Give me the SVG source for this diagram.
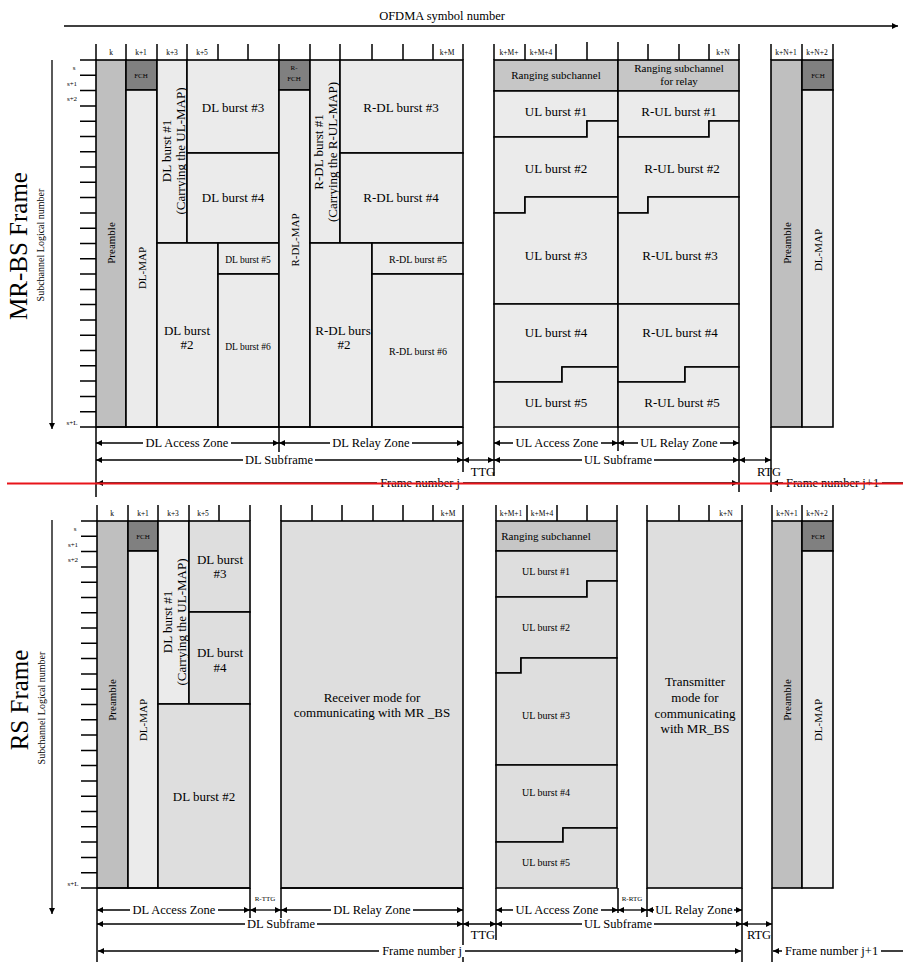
<svg xmlns="http://www.w3.org/2000/svg" width="903" height="962" viewBox="0 0 903 962" font-family="'Liberation Serif', serif">
<defs>
<marker id="ah" viewBox="0 0 10 10" refX="10" refY="5" markerWidth="8" markerHeight="6" markerUnits="userSpaceOnUse" orient="auto-start-reverse"><path d="M0,0 L10,5 L0,10 z" fill="#000"/></marker>
<style>
.ln{stroke:#000;stroke-width:1.5;fill:none}
.c{fill:#ebebeb;stroke:#000;stroke-width:1.6}
.d{fill:#dedede;stroke:#000;stroke-width:1.6}
.pre{fill:#bfbfbf;stroke:#000;stroke-width:1.6}
.fch{fill:#808080;stroke:#000;stroke-width:1.6}
.rng{fill:#c6c6c6;stroke:#000;stroke-width:1.6}
.ar{stroke:#000;stroke-width:1.3;fill:none;marker-start:url(#ah);marker-end:url(#ah)}
.are{stroke:#000;stroke-width:1.3;fill:none;marker-end:url(#ah)}
.ars{stroke:#000;stroke-width:1.3;fill:none;marker-start:url(#ah)}
.bg{fill:#fff;stroke:none}
text{font-family:"Liberation Serif","DejaVu Serif",serif;fill:#000;text-anchor:middle}
.f13{font-size:13px}
.f12{font-size:12.5px}
.f11{font-size:11px}
.f10{font-size:10px}
.f9{font-size:9.5px}
.f7{font-size:7.5px}
.f6{font-size:7px}
.big{font-size:25px}
</style>
</defs>

<!-- title axis -->
<g id="ofdma-axis">
<text class="f12" x="442" y="20">OFDMA symbol number</text>
<path class="are" d="M64,26 H898"/>
</g>

<!-- ================= MR-BS frame ================= -->
<g id="mrbs-labels">
<text class="big" transform="translate(18,246) rotate(-90)" dy="0.35em">MR-BS Frame</text>
<text class="f10" transform="translate(40,245) rotate(-90)" dy="0.35em">Subchannel Logical number</text>
<path class="are" d="M52,60 V429"/>
<path class="ln" d="M80,60H96M80,75.3H96M80,90.6H96M80,105.9H96M80,121.2H96M80,136.5H96M80,151.7H96M80,167H96M80,182.3H96M80,197.6H96M80,212.9H96M80,228.2H96M80,243.5H96M80,258.8H96M80,274.1H96M80,289.4H96M80,304.6H96M80,319.9H96M80,335.2H96M80,350.5H96M80,365.8H96M80,381.1H96M80,396.4H96M80,411.7H96M80,427H96"/>
<text class="f6" x="74" y="70">s</text>
<text class="f6" x="72" y="86">s+1</text>
<text class="f6" x="72" y="101">s+2</text>
<text class="f6" x="72" y="425">s+L</text>
</g>

<g id="mrbs-header">
<path class="ln" d="M96,44V60M126,44V60M157,44V60M187,44V60M218,44V60M248,44V60M279,44V60M310,44V60M340,44V60M372,44V60M403,44V60M433,44V60M463,44V60M494,44V60M525,44V60M556,44V60M587,42V60M618,42V60M648,44V60M679,44V60M709,44V60M739,44V60M771,44V60M802,44V60M833,44V60"/>
<text class="f7" x="111" y="55">k</text>
<text class="f7" x="141" y="55">k+1</text>
<text class="f7" x="172" y="55">k+3</text>
<text class="f7" x="202" y="55">k+5</text>
<text class="f7" x="447" y="55">k+M</text>
<text class="f7" x="509" y="55">k+M+</text>
<text class="f7" x="541" y="55">k+M+4</text>
<text class="f7" x="723" y="55">k+N</text>
<text class="f7" x="786" y="55">k+N+1</text>
<text class="f7" x="817" y="55">k+N+2</text>
</g>

<g id="mrbs-preamble"><rect class="pre" x="96" y="60" width="30" height="367"/><text class="f11" transform="translate(111,243) rotate(-90)" dy="0.35em">Preamble</text></g>
<g id="mrbs-fch"><rect class="fch" x="126" y="60" width="31" height="30"/><text class="f6" x="141" y="78">FCH</text></g>
<g id="mrbs-dlmap"><rect class="c" x="126" y="90" width="31" height="337"/><text class="f11" transform="translate(142,268) rotate(-90)" dy="0.35em">DL-MAP</text></g>
<g id="mrbs-dl1"><rect class="c" x="157" y="60" width="30" height="183"/><text class="f13" transform="translate(166,151) rotate(-90)" dy="0.35em">DL burst #1</text><text class="f13" transform="translate(180,151) rotate(-90)" dy="0.35em">(Carrying the UL-MAP)</text></g>
<g id="mrbs-dl3"><rect class="c" x="187" y="60" width="92" height="93"/><text class="f13" x="233" y="111.5">DL burst #3</text></g>
<g id="mrbs-dl4"><rect class="c" x="187" y="153" width="92" height="90"/><text class="f13" x="233" y="201.5">DL burst #4</text></g>
<g id="mrbs-dl2"><rect class="c" x="157" y="243" width="61" height="184"/><text class="f13" x="187" y="334.5">DL burst</text><text class="f13" x="187" y="348.5">#2</text></g>
<g id="mrbs-dl5"><rect class="c" x="218" y="243" width="61" height="31"/><text class="f9" x="248" y="262.5">DL burst #5</text></g>
<g id="mrbs-dl6"><rect class="c" x="218" y="274" width="61" height="153"/><text class="f9" x="248" y="349.5">DL burst #6</text></g>

<g id="mrbs-rfch"><rect class="fch" x="279" y="60" width="31" height="30"/><text class="f6" x="294" y="70">R-</text><text class="f6" x="294" y="81">FCH</text></g>
<g id="mrbs-rdlmap"><rect class="c" x="279" y="90" width="31" height="337"/><text class="f11" transform="translate(295,240) rotate(-90)" dy="0.35em">R-DL-MAP</text></g>
<g id="mrbs-rdl1"><rect class="c" x="310" y="60" width="30" height="183"/><text class="f13" transform="translate(318,152) rotate(-90)" dy="0.35em">R-DL burst #1</text><text class="f13" transform="translate(332,152) rotate(-90)" dy="0.35em">(Carrying the R-UL-MAP)</text></g>
<g id="mrbs-rdl3"><rect class="c" x="340" y="60" width="123" height="93"/><text class="f13" x="401" y="111.5">R-DL burst #3</text></g>
<g id="mrbs-rdl4"><rect class="c" x="340" y="153" width="123" height="90"/><text class="f13" x="401" y="201.5">R-DL burst #4</text></g>
<g id="mrbs-rdl2"><rect class="c" x="310" y="243" width="62" height="184"/><text class="f13" x="343" y="334.5">R-DL burs</text><text class="f13" x="344" y="348.5">#2</text></g>
<g id="mrbs-rdl5"><rect class="c" x="372" y="243" width="91" height="31"/><text class="f10" x="418" y="262.5">R-DL burst #5</text></g>
<g id="mrbs-rdl6"><rect class="c" x="372" y="274" width="91" height="153"/><text class="f10" x="418" y="355">R-DL burst #6</text></g>

<g id="mrbs-ranging"><rect class="rng" x="494" y="60" width="124" height="31"/><text class="f11" x="556" y="79">Ranging subchannel</text></g>
<g id="mrbs-ul1"><polygon class="c" points="494,91 618,91 618,121 587,121 587,137 494,137"/><text class="f13" x="556" y="115.5">UL burst #1</text></g>
<g id="mrbs-ul2"><polygon class="c" points="494,137 587,137 587,121 618,121 618,197 525,197 525,213 494,213"/><text class="f13" x="556" y="172.5">UL burst #2</text></g>
<g id="mrbs-ul3"><polygon class="c" points="494,213 525,213 525,197 618,197 618,304 494,304"/><text class="f13" x="556" y="259.5">UL burst #3</text></g>
<g id="mrbs-ul4"><polygon class="c" points="494,304 618,304 618,367 562,367 562,382 494,382"/><text class="f13" x="556" y="336.5">UL burst #4</text></g>
<g id="mrbs-ul5"><polygon class="c" points="494,382 562,382 562,367 618,367 618,427 494,427"/><text class="f13" x="556" y="406.5">UL burst #5</text></g>

<g id="mrbs-rranging"><rect class="rng" x="618" y="60" width="121" height="31"/><text class="f11" x="679" y="72">Ranging subchannel</text><text class="f11" x="679" y="85">for relay</text></g>
<g id="mrbs-rul1"><polygon class="c" points="618,91 739,91 739,121 709,121 709,137 618,137"/><text class="f13" x="679" y="115.5">R-UL burst #1</text></g>
<g id="mrbs-rul2"><polygon class="c" points="618,137 709,137 709,121 739,121 739,197 648,197 648,213 618,213"/><text class="f13" x="682" y="172.5">R-UL burst #2</text></g>
<g id="mrbs-rul3"><polygon class="c" points="618,213 648,213 648,197 739,197 739,304 618,304"/><text class="f13" x="680" y="259.5">R-UL burst #3</text></g>
<g id="mrbs-rul4"><polygon class="c" points="618,304 739,304 739,367 685,367 685,382 618,382"/><text class="f13" x="680" y="336.5">R-UL burst #4</text></g>
<g id="mrbs-rul5"><polygon class="c" points="618,382 685,382 685,367 739,367 739,427 618,427"/><text class="f13" x="682" y="406.5">R-UL burst #5</text></g>

<g id="mrbs-next-preamble"><rect class="pre" x="771" y="60" width="31" height="367"/><text class="f11" transform="translate(787,243) rotate(-90)" dy="0.35em">Preamble</text></g>
<g id="mrbs-next-fch"><rect class="fch" x="802" y="60" width="31" height="30"/><text class="f6" x="818" y="78">FCH</text></g>
<g id="mrbs-next-dlmap"><rect class="c" x="802" y="90" width="31" height="337"/><text class="f11" transform="translate(818,250) rotate(-90)" dy="0.35em">DL-MAP</text></g>

<g id="mrbs-connectors">
<path class="ln" d="M96,427V497M279,427V452M463,427V472M494,427V476M618,427V451M739,427V492M771,427V492M96,427H463"/>
<path class="ar" d="M96,443H279"/><rect class="bg" x="143" y="437" width="88" height="12"/><text class="f12" x="187" y="447">DL Access Zone</text>
<path class="ar" d="M279,443H463"/><rect class="bg" x="330" y="437" width="82" height="12"/><text class="f12" x="371" y="447">DL Relay Zone</text>
<path class="ar" d="M96,460H463"/><rect class="bg" x="243" y="454" width="72" height="12"/><text class="f12" x="279" y="464">DL Subframe</text>
<path class="ar" d="M463,460H494"/><text class="f12" x="483" y="476">TTG</text>
<path class="ar" d="M494,443H618"/><rect class="bg" x="513" y="437" width="88" height="12"/><text class="f12" x="557" y="447">UL Access Zone</text>
<path class="ar" d="M618,443H739"/><rect class="bg" x="638" y="437" width="82" height="12"/><text class="f12" x="679" y="447">UL Relay Zone</text>
<path class="ar" d="M494,460H739"/><rect class="bg" x="582" y="454" width="72" height="12"/><text class="f12" x="618" y="464">UL Subframe</text>
<path class="ar" d="M739,460H771"/><text class="f12" x="769" y="476">RTG</text>
<path class="ar" d="M97,483H738"/><rect class="bg" x="377" y="477" width="86" height="12"/><text class="f12" x="460" y="487" style="text-anchor:end">Frame number j</text>
<path class="ars" d="M772,483H903"/><rect class="bg" x="783" y="477" width="99" height="12"/><text class="f12" x="786" y="487" style="text-anchor:start">Frame number j+1</text>
</g>

<g id="separator"><path d="M7,483.5H903" stroke="#e8141a" stroke-width="2.2" fill="none"/></g>

<!-- ================= RS frame ================= -->
<g id="rs-labels">
<text class="big" transform="translate(19,700) rotate(-90)" dy="0.35em">RS Frame</text>
<text class="f10" transform="translate(41,708) rotate(-90)" dy="0.35em">Subchannel Logical number</text>
<path class="are" d="M52,520 V914"/>
<path class="ln" d="M81,521H97M81,536.3H97M81,551.6H97M81,566.9H97M81,582.2H97M81,597.5H97M81,612.7H97M81,628H97M81,643.3H97M81,658.6H97M81,673.9H97M81,689.2H97M81,704.5H97M81,719.8H97M81,735.1H97M81,750.4H97M81,765.6H97M81,780.9H97M81,796.2H97M81,811.5H97M81,826.8H97M81,842.1H97M81,857.4H97M81,872.7H97M81,888H97"/>
<text class="f6" x="75" y="531">s</text>
<text class="f6" x="73" y="547">s+1</text>
<text class="f6" x="73" y="562">s+2</text>
<text class="f6" x="73" y="886">s+L</text>
</g>

<g id="rs-header">
<path class="ln" d="M97,505V521M128,505V521M158,505V521M189,505V521M219,505V521M250,505V521M281,505V521M312,505V521M342,505V521M373,505V521M403,505V521M433,505V521M463,505V521M496,505V521M527,505V521M557,505V521M587,505V521M617,505V521M647,505V521M679,505V521M709,505V521M742,505V521M772,505V521M802,505V521M833,505V521"/>
<text class="f7" x="112" y="516">k</text>
<text class="f7" x="143" y="516">k+1</text>
<text class="f7" x="173" y="516">k+3</text>
<text class="f7" x="203" y="516">k+5</text>
<text class="f7" x="448" y="516">k+M</text>
<text class="f7" x="511" y="516">k+M+1</text>
<text class="f7" x="542" y="516">k+M+4</text>
<text class="f7" x="726" y="516">k+N</text>
<text class="f7" x="787" y="516">k+N+1</text>
<text class="f7" x="817" y="516">k+N+2</text>
</g>

<g id="rs-preamble"><rect class="pre" x="97" y="521" width="31" height="367"/><text class="f11" transform="translate(112,700) rotate(-90)" dy="0.35em">Preamble</text></g>
<g id="rs-fch"><rect class="fch" x="128" y="521" width="30" height="30"/><text class="f6" x="143" y="539">FCH</text></g>
<g id="rs-dlmap"><rect class="c" x="128" y="551" width="30" height="337"/><text class="f11" transform="translate(143,720) rotate(-90)" dy="0.35em">DL-MAP</text></g>
<g id="rs-dl1"><rect class="c" x="158" y="521" width="31" height="183"/><text class="f13" transform="translate(167,622) rotate(-90)" dy="0.35em">DL burst #1</text><text class="f13" transform="translate(181,622) rotate(-90)" dy="0.35em">(Carrying the UL-MAP)</text></g>
<g id="rs-dl3"><rect class="d" x="189" y="521" width="61" height="91"/><text class="f13" x="220" y="563.5">DL burst</text><text class="f13" x="220" y="577.5">#3</text></g>
<g id="rs-dl4"><rect class="d" x="189" y="612" width="61" height="92"/><text class="f13" x="220" y="656.5">DL burst</text><text class="f13" x="220" y="671.5">#4</text></g>
<g id="rs-dl2"><rect class="d" x="158" y="704" width="92" height="184"/><text class="f13" x="204" y="800.5">DL burst #2</text></g>

<g id="rs-receiver"><rect class="d" x="281" y="521" width="182" height="367"/><text class="f13" x="372" y="701.5">Receiver mode for</text><text class="f13" x="372" y="717">communicating with MR _BS</text></g>

<g id="rs-ranging"><rect class="rng" x="496" y="521" width="121" height="30"/><text class="f11" x="546" y="539.5">Ranging subchannel</text></g>
<g id="rs-ul1"><polygon class="d" points="496,551 617,551 617,581 587,581 587,597 496,597"/><text class="f10" x="546" y="574.5">UL burst #1</text></g>
<g id="rs-ul2"><polygon class="d" points="496,597 587,597 587,581 617,581 617,658 521,658 521,673 496,673"/><text class="f10" x="546" y="630.5">UL burst #2</text></g>
<g id="rs-ul3"><polygon class="d" points="496,673 521,673 521,658 617,658 617,765 496,765"/><text class="f10" x="546" y="718.5">UL burst #3</text></g>
<g id="rs-ul4"><polygon class="d" points="496,765 617,765 617,828 563,828 563,842 496,842"/><text class="f10" x="546" y="795.5">UL burst #4</text></g>
<g id="rs-ul5"><polygon class="d" points="496,842 563,842 563,828 617,828 617,888 496,888"/><text class="f10" x="546" y="865.5">UL burst #5</text></g>

<g id="rs-transmitter"><rect class="d" x="647" y="521" width="95" height="367"/><text class="f13" x="695" y="685.5">Transmitter</text><text class="f13" x="695" y="702">mode for</text><text class="f13" x="695" y="717.5">communicating</text><text class="f13" x="695" y="733">with MR_BS</text></g>

<g id="rs-next-preamble"><rect class="pre" x="772" y="521" width="30" height="367"/><text class="f11" transform="translate(787,700) rotate(-90)" dy="0.35em">Preamble</text></g>
<g id="rs-next-fch"><rect class="fch" x="802" y="521" width="31" height="30"/><text class="f6" x="818" y="539">FCH</text></g>
<g id="rs-next-dlmap"><rect class="c" x="802" y="551" width="31" height="337"/><text class="f11" transform="translate(818,720) rotate(-90)" dy="0.35em">DL-MAP</text></g>

<g id="rs-connectors">
<path class="ln" d="M97,888V962M250,888V920M281,888V922M463,888V962M496,888V940M618,888V913M647,888V917M742,888V962M772,888V962M97,888H250M281,888H463"/>
<path class="ar" d="M97,910H250"/><rect class="bg" x="130" y="904" width="88" height="12"/><text class="f12" x="174" y="914">DL Access Zone</text>
<path class="ar" d="M250,910H281"/><text class="f6" x="265" y="901">R-TTG</text>
<path class="ar" d="M281,910H463"/><rect class="bg" x="331" y="904" width="82" height="12"/><text class="f12" x="372" y="914">DL Relay Zone</text>
<path class="ar" d="M97,924H463"/><rect class="bg" x="245" y="918" width="72" height="12"/><text class="f12" x="281" y="928">DL Subframe</text>
<path class="ar" d="M463,924H496"/><text class="f12" x="483" y="939">TTG</text>
<path class="ar" d="M496,910H618"/><rect class="bg" x="513" y="904" width="88" height="12"/><text class="f12" x="557" y="914">UL Access Zone</text>
<path class="ar" d="M618,910H647"/><text class="f6" x="632" y="901">R-RTG</text>
<path class="ar" d="M647,910H742"/><rect class="bg" x="654" y="904" width="80" height="12"/><text class="f12" x="694" y="914">UL Relay Zone</text>
<path class="ar" d="M496,924H742"/><rect class="bg" x="582" y="918" width="72" height="12"/><text class="f12" x="618" y="928">UL Subframe</text>
<path class="ar" d="M742,924H772"/><text class="f12" x="759" y="939">RTG</text>
<path class="ar" d="M98,951H741"/><rect class="bg" x="379" y="945" width="86" height="12"/><text class="f12" x="462" y="955" style="text-anchor:end">Frame number j</text>
<path class="ars" d="M773,951H903"/><rect class="bg" x="782" y="945" width="99" height="12"/><text class="f12" x="785" y="955" style="text-anchor:start">Frame number j+1</text>
</g>
</svg>
